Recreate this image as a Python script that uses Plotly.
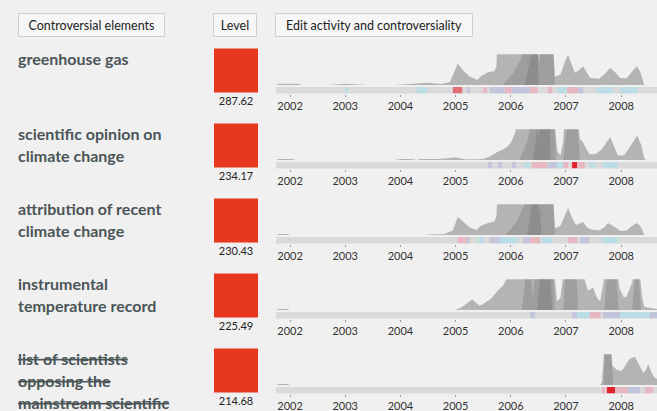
import plotly.graph_objects as go

W, H = 657, 411

# ---------------- data ----------------
label_lines = [
    ["greenhouse gas"],
    ["scientific opinion on", "climate change"],
    ["attribution of recent", "climate change"],
    ["instrumental", "temperature record"],
    ["list of scientists", "opposing the", "mainstream scientific"],
]
struck = [False, False, False, False, True]
levels = [287.62, 234.17, 230.43, 225.49, 214.68]
years = [2002, 2003, 2004, 2005, 2006, 2007, 2008]
year_labels = [str(y) for y in years]
headers = ["Controversial elements", "Level", "Edit activity and controversiality"]

# edit activity (0-100 visible, higher values are clipped at the top)
r1_a_x = [2001.75, 2001.80, 2002.15, 2002.20, 2002.70, 2002.80, 2003.00, 2003.25, 2003.40, 2003.90, 2004.10, 2004.50,
          2004.75, 2004.90, 2005.04, 2005.15, 2005.25, 2005.39, 2005.47, 2005.60, 2005.70, 2005.74, 2005.76, 2006.49,
          2006.51, 2006.54, 2006.76, 2006.80, 2006.90, 2007.00, 2007.04, 2007.10, 2007.16, 2007.25, 2007.31, 2007.38,
          2007.44, 2007.60, 2007.70, 2007.80, 2007.90, 2007.98, 2008.10, 2008.20, 2008.29, 2008.35, 2008.40, 2008.42,
          2008.65]
r1_a_y = [0, 4, 4, 0, 0, 2, 4, 2, 0, 0, 3, 7,
          3, 10, 70, 45, 28, 16, 30, 42, 45, 60, 150, 150,
          60, 150, 150, 26, 35, 85, 97, 70, 40, 50, 61, 40,
          23, 20, 35, 55, 40, 23, 22, 45, 61, 40, 5, 0,
          0]
r1_b_x = [2005.85, 2006.05, 2006.20, 2006.28, 2006.76, 2006.80]
r1_b_y = [0, 40, 90, 150, 150, 0]
r1_c_x = [2006.25, 2006.35, 2006.42, 2006.49, 2006.50]
r1_c_y = [0, 80, 150, 150, 0]

r2_a_x = [2001.75, 2001.80, 2002.05, 2002.10, 2003.90, 2004.00, 2004.20, 2004.30, 2004.35, 2004.45, 2004.55, 2004.60,
          2004.70, 2004.85, 2005.00, 2005.10, 2005.20, 2005.50, 2005.60, 2005.75, 2005.86, 2005.95, 2006.02, 2006.08,
          2006.11, 2006.49, 2006.51, 2006.54, 2006.78, 2006.84, 2006.90, 2006.95, 2006.98, 2007.20, 2007.25, 2007.31,
          2007.37, 2007.43, 2007.55, 2007.65, 2007.80, 2007.88, 2007.94, 2008.05, 2008.15, 2008.29, 2008.36, 2008.42,
          2008.45, 2008.65]
r2_a_y = [0, 3, 3, 0, 0, 3, 3, 0, 3, 3, 2, 4,
          3, 6, 8, 5, 2, 3, 10, 25, 34, 45, 63, 90,
          150, 150, 70, 150, 150, 30, 15, 60, 150, 150, 70, 57,
          35, 18, 20, 35, 75, 40, 15, 15, 40, 80, 50, 5,
          0, 0]
r2_b_x = [2006.15, 2006.30, 2006.40, 2006.78, 2006.82, 2006.95, 2007.00, 2007.05, 2007.20, 2007.25]
r2_b_y = [0, 60, 150, 150, 0, 0, 80, 150, 150, 0]
r2_c_x = [2006.40, 2006.50, 2006.52, 2006.70, 2006.72]
r2_c_y = [0, 120, 150, 150, 0]

r3_a_x = [2001.75, 2001.80, 2001.95, 2002.00, 2004.45, 2004.50, 2004.80, 2004.95, 2005.04, 2005.15, 2005.25, 2005.38,
          2005.46, 2005.60, 2005.70, 2005.74, 2005.76, 2006.49, 2006.51, 2006.54, 2006.76, 2006.80, 2006.90, 2007.00,
          2007.04, 2007.10, 2007.18, 2007.25, 2007.31, 2007.38, 2007.45, 2007.60, 2007.70, 2007.76, 2007.85, 2007.98,
          2008.10, 2008.20, 2008.29, 2008.36, 2008.40, 2008.42, 2008.65]
r3_a_y = [0, 3, 3, 0, 0, 2, 3, 15, 59, 40, 25, 16,
          30, 40, 43, 60, 150, 150, 70, 150, 150, 22, 30, 75,
          88, 60, 32, 38, 42, 25, 18, 15, 25, 39, 30, 13,
          15, 30, 39, 25, 5, 0, 0]
r3_b_x = [2005.90, 2006.10, 2006.25, 2006.32, 2006.76, 2006.80]
r3_b_y = [0, 40, 100, 150, 150, 0]
r3_c_x = [2006.30, 2006.38, 2006.42, 2006.52, 2006.55]
r3_c_y = [0, 100, 150, 150, 0]

r4_a_x = [2001.75, 2001.80, 2001.95, 2002.00, 2005.00, 2005.10, 2005.20, 2005.30, 2005.38, 2005.44, 2005.55, 2005.65,
          2005.75, 2005.86, 2005.95, 2006.00, 2006.77, 2006.84, 2006.90, 2006.95, 2006.98, 2007.29, 2007.35, 2007.40,
          2007.49, 2007.56, 2007.62, 2007.68, 2007.71, 2007.92, 2007.97, 2008.05, 2008.10, 2008.20, 2008.25, 2008.32,
          2008.38, 2008.42, 2008.55, 2008.65]
r4_a_y = [0, 3, 3, 0, 0, 8, 20, 34, 22, 14, 25, 38,
          60, 80, 110, 150, 150, 28, 40, 120, 150, 150, 90, 63,
          73, 40, 28, 90, 150, 150, 70, 40, 45, 90, 150, 150,
          40, 10, 5, 3]
r4_b_x = [2006.20, 2006.30, 2006.35, 2006.40, 2006.45, 2006.76, 2006.80, 2006.95, 2007.00, 2007.18, 2007.22,
          2007.70, 2007.75, 2007.90, 2007.95, 2008.20, 2008.27, 2008.30, 2008.36]
r4_b_y = [0, 150, 150, 40, 150, 150, 0, 0, 150, 150, 0,
          0, 150, 150, 0, 0, 150, 150, 0]
r4_c_x = [2006.48, 2006.55, 2006.70, 2006.75]
r4_c_y = [0, 150, 150, 0]

r5_a_x = [2001.75, 2001.80, 2001.95, 2002.00, 2007.62, 2007.65, 2007.68, 2007.70, 2007.81, 2007.84, 2007.92, 2008.00,
          2008.05, 2008.15, 2008.25, 2008.32, 2008.40, 2008.45, 2008.49, 2008.55, 2008.61, 2008.65]
r5_a_y = [0, 3, 3, 0, 0, 10, 80, 150, 150, 63, 50, 46,
          55, 85, 92, 70, 40, 50, 69, 40, 23, 20]
r5_b_x = [2007.68, 2007.71, 2007.80, 2007.86]
r5_b_y = [0, 150, 150, 0]
r5_c_x = []
r5_c_y = []

# controversiality strip: segment start, end, level (1 light blue, 2 lavender, 3 pink, 4 red, 5 bright red)
r1_seg_start = [2003.00, 2004.30, 2004.95, 2005.21, 2005.50, 2005.62, 2005.89, 2006.02, 2006.35, 2006.67, 2006.84,
                2007.02, 2007.22, 2007.56, 2007.98]
r1_seg_end = [2003.05, 2004.48, 2005.12, 2005.26, 2005.57, 2005.89, 2006.02, 2006.35, 2006.49, 2006.75, 2007.02,
              2007.22, 2007.31, 2007.85, 2008.29]
r1_seg_level = [1, 1, 4, 2, 3, 2, 3, 2, 3, 3, 1, 3, 2, 1, 1]

r2_seg_start = [2005.59, 2005.77, 2006.02, 2006.24, 2006.38, 2006.67, 2006.84, 2006.95, 2007.11, 2007.20, 2007.43,
                2007.67]
r2_seg_end = [2005.66, 2005.84, 2006.09, 2006.35, 2006.66, 2006.84, 2006.95, 2007.04, 2007.20, 2007.34, 2007.53,
              2007.94]
r2_seg_level = [2, 2, 2, 1, 3, 2, 1, 3, 5, 3, 1, 1]

r3_seg_start = [2005.04, 2005.21, 2005.41, 2005.62, 2005.80, 2006.22, 2006.35, 2006.57, 2007.04, 2007.25, 2007.65]
r3_seg_end = [2005.21, 2005.26, 2005.50, 2005.80, 2006.13, 2006.35, 2006.53, 2006.76, 2007.20, 2007.43, 2007.94]
r3_seg_level = [3, 2, 1, 2, 1, 2, 3, 1, 3, 2, 1]

r4_seg_start = [2006.35, 2007.11, 2007.20, 2007.43, 2007.67, 2007.98, 2008.52]
r4_seg_end = [2006.44, 2007.20, 2007.43, 2007.62, 2007.98, 2008.52, 2008.65]
r4_seg_level = [2, 2, 1, 3, 2, 1, 2]

r5_seg_start = [2007.65, 2007.74, 2007.89, 2008.12, 2008.43]
r5_seg_end = [2007.71, 2007.89, 2008.12, 2008.34, 2008.58]
r5_seg_level = [3, 5, 3, 2, 3]

level_colors = {1: "#bcdde6", 2: "#c3c5dc", 3: "#e8b8c2", 4: "#e46d78", 5: "#e2222e"}

rows_a = [(r1_a_x, r1_a_y), (r2_a_x, r2_a_y), (r3_a_x, r3_a_y), (r4_a_x, r4_a_y), (r5_a_x, r5_a_y)]
rows_b = [(r1_b_x, r1_b_y), (r2_b_x, r2_b_y), (r3_b_x, r3_b_y), (r4_b_x, r4_b_y), (r5_b_x, r5_b_y)]
rows_c = [(r1_c_x, r1_c_y), (r2_c_x, r2_c_y), (r3_c_x, r3_c_y), (r4_c_x, r4_c_y), (r5_c_x, r5_c_y)]
rows_seg = [(r1_seg_start, r1_seg_end, r1_seg_level), (r2_seg_start, r2_seg_end, r2_seg_level),
            (r3_seg_start, r3_seg_end, r3_seg_level), (r4_seg_start, r4_seg_end, r4_seg_level),
            (r5_seg_start, r5_seg_end, r5_seg_level)]

# ---------------- layout helpers ----------------
BG = "#f0f0f0"
FONT = "Lato"
X0, X1 = 2001.746, 2008.649
PITCH = 75
TL_LEFT = 276
LINE_GAP = 22


def ydom(top_px, bot_px):
    return [1 - bot_px / H, 1 - top_px / H]


fig = go.Figure()
layout = dict(
    width=W, height=H, margin=dict(l=0, r=0, t=0, b=0),
    paper_bgcolor=BG, plot_bgcolor="rgba(0,0,0,0)", showlegend=False,
    hovermode=False, barmode="overlay", font=dict(family=FONT),
)
shapes = []
annotations = []
LAYER_FILLS = ["rgba(120,120,120,0.50)", "rgba(80,80,80,0.22)", "rgba(80,80,80,0.22)"]

for i in range(5):
    na, ns = 2 * i + 1, 2 * i + 2
    xa = "x" if na == 1 else f"x{na}"
    ya = "y" if na == 1 else f"y{na}"
    xs, ys = f"x{ns}", f"y{ns}"
    off = PITCH * i
    layout["xaxis" if na == 1 else f"xaxis{na}"] = dict(
        domain=[TL_LEFT / W, 1], range=[X0, X1], visible=False, anchor=ya, fixedrange=True)
    layout["yaxis" if na == 1 else f"yaxis{na}"] = dict(
        domain=ydom(54.3 + off, 85 + off), range=[0, 100], visible=False, anchor=xa, fixedrange=True)
    layout[f"xaxis{ns}"] = dict(
        domain=[TL_LEFT / W, 1], range=[X0, X1], anchor=ys, tickmode="array", tickvals=years,
        ticktext=year_labels, ticks="outside", ticklen=2, tickwidth=1, tickcolor="#9a9a9a",
        showgrid=False, zeroline=False, showline=False,
        tickfont=dict(family=FONT, size=11, color="#333333"), fixedrange=True)
    layout[f"yaxis{ns}"] = dict(
        domain=ydom(87 + off, 93.5 + off), range=[0, 1], visible=False, anchor=xs, fixedrange=True)

    for (sx, sy), fc in zip((rows_a[i], rows_b[i], rows_c[i]), LAYER_FILLS):
        if not sx:
            continue
        fig.add_trace(go.Scatter(x=sx, y=sy, mode="lines", fill="tozeroy", fillcolor=fc,
                                 line=dict(width=0, color=fc), xaxis=xa, yaxis=ya))

    shapes.append(dict(type="rect", xref=f"{xs} domain", yref=f"{ys} domain", x0=0, x1=1, y0=0, y1=1,
                       fillcolor="#dadada", line=dict(width=0), layer="below"))
    st, en, lv = rows_seg[i]
    fig.add_trace(go.Bar(x=[(a + b) / 2 for a, b in zip(st, en)], y=[1] * len(st),
                         width=[b - a for a, b in zip(st, en)], base=0,
                         marker=dict(color=[level_colors[v] for v in lv], line=dict(width=0)),
                         xaxis=xs, yaxis=ys))

    # row label
    for j, line in enumerate(label_lines[i]):
        txt = f"<s>{line}</s>" if struck[i] else line
        annotations.append(dict(
            text=txt, xref="paper", yref="paper", x=16 / W, y=1 - (47 + off + LINE_GAP * j) / H,
            xanchor="left", yanchor="top", showarrow=False,
            font=dict(family=FONT, size=16, color="#4a5557", weight="bold")))

# level squares
layout["xaxis11"] = dict(domain=[200 / W, 272 / W], range=[-1, 1], visible=False, anchor="y11", fixedrange=True)
layout["yaxis11"] = dict(domain=[0, 1], range=[(H - 70.5) / PITCH, -70.5 / PITCH], visible=False,
                         anchor="x11", fixedrange=True)
row_idx = list(range(5))
fig.add_trace(go.Scatter(x=[0] * 5, y=row_idx, mode="markers",
                         marker=dict(symbol="square", size=44, color="#e8371f", line=dict(width=0)),
                         xaxis="x11", yaxis="y11"))
fig.add_trace(go.Scatter(x=[0] * 5, y=[r + 0.42 for r in row_idx], mode="text",
                         text=[f"{v:.2f}" for v in levels],
                         textfont=dict(family=FONT, size=11, color="#222222"),
                         xaxis="x11", yaxis="y11"))

# header boxes
header_boxes = [(18, 147), (213, 44), (275, 198)]
for text, (bx, bw) in zip(headers, header_boxes):
    annotations.append(dict(
        text=text, xref="paper", yref="paper", x=bx / W, y=1 - 13 / H, xanchor="left", yanchor="top",
        showarrow=False, width=bw - 10, height=14, borderpad=4, borderwidth=1, bordercolor="#cfcfcf",
        bgcolor="#f6f6f6", align="center", font=dict(family=FONT, size=12.5, color="#222222")))

layout["shapes"] = shapes
layout["annotations"] = annotations
fig.update_layout(**layout)
fig.write_html("out.html", config={"displayModeBar": False, "staticPlot": True},
               post_script="document.body.style.margin='0';document.body.style.overflow='hidden';")
